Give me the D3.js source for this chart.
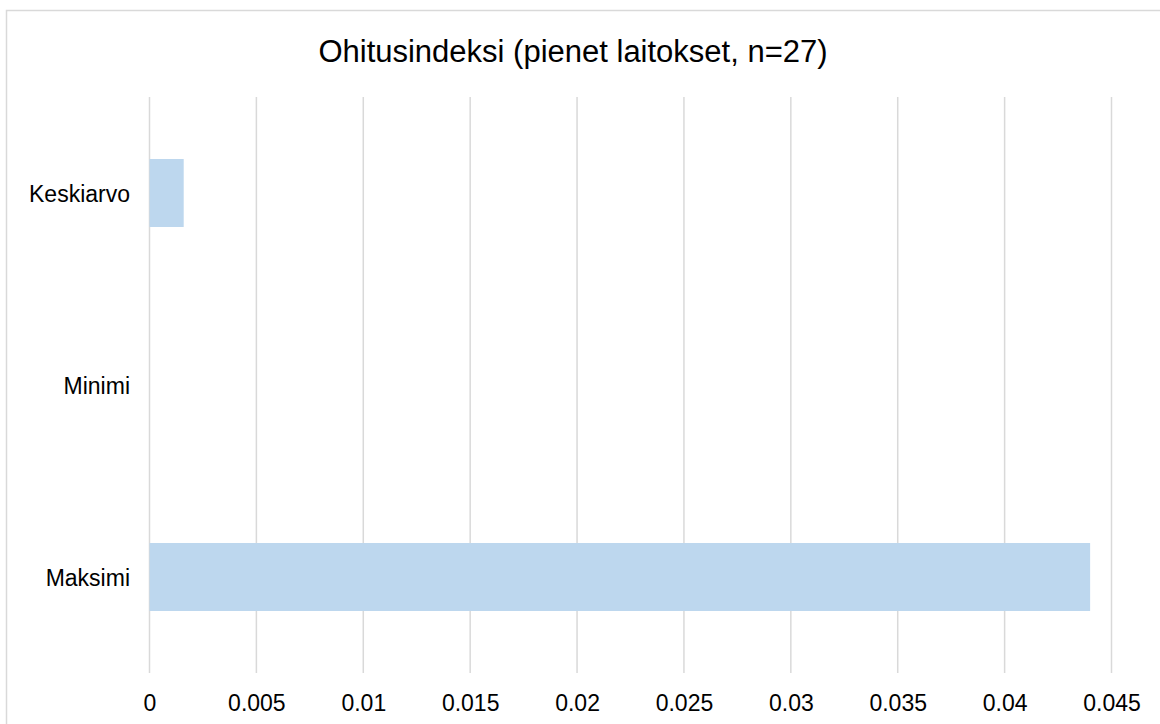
<!DOCTYPE html>
<html>
<head>
<meta charset="utf-8">
<script src="https://cdn.jsdelivr.net/npm/d3@7"></script>
<style>
  body { margin: 0; background: #fff; }
  text { font-family: "Liberation Sans", Arial, sans-serif; fill: #000; }
</style>
</head>
<body>
<svg></svg>
<script>
var categories = ["Keskiarvo", "Minimi", "Maksimi"]
var values = [0.0016, 0, 0.044]
var tickValues = [0, 0.005, 0.01, 0.015, 0.02, 0.025, 0.03, 0.035, 0.04, 0.045]
var tickLabels = ["0", "0.005", "0.01", "0.015", "0.02", "0.025", "0.03", "0.035", "0.04", "0.045"]
var title = "Ohitusindeksi (pienet laitokset, n=27)"

var screen = {width: 1160, height: 724}
var plot = {left: 149.5, right: 1111.5, top: 97, bottom: 673}

var svg = d3.select("svg")
    .attr("width", screen.width)
    .attr("height", screen.height)

// chart border (runs off the right and bottom of the picture)
svg.append("rect")
    .attr("x", 6.5)
    .attr("y", 10.5)
    .attr("width", 1200)
    .attr("height", 800)
    .attr("fill", "#fff")
    .attr("stroke", "#d9d9d9")
    .attr("stroke-width", 1.5)

var xScale = d3.scaleLinear()
    .domain([0, 0.045])
    .range([plot.left, plot.right])

var yScale = d3.scaleBand()
    .domain(categories)
    .range([plot.top, plot.bottom])
    .paddingInner(0.646)
    .paddingOuter(0.323)

// gridlines
svg.append("g")
    .selectAll("line")
    .data(tickValues)
    .enter()
    .append("line")
    .attr("x1", function(d){ return xScale(d) })
    .attr("x2", function(d){ return xScale(d) })
    .attr("y1", plot.top)
    .attr("y2", plot.bottom)
    .attr("stroke", "#d9d9d9")
    .attr("stroke-width", 1.5)

// bars
svg.append("g")
    .selectAll("rect")
    .data(values)
    .enter()
    .append("rect")
    .attr("x", xScale(0))
    .attr("y", function(d, i){ return yScale(categories[i]) })
    .attr("width", function(d){ return xScale(d) - xScale(0) })
    .attr("height", yScale.bandwidth())
    .attr("fill", "#bdd7ee")

// x axis labels
var xAxis = d3.axisBottom(xScale)
    .tickValues(tickValues)
    .tickFormat(function(d, i){ return tickLabels[i] })
    .tickSize(0)
    .tickPadding(0)

svg.append("g")
    .attr("id", "xAxis")
    .attr("transform", "translate(0," + 695 + ")")
    .call(xAxis)
    .call(function(g){ g.select(".domain").remove() })
    .selectAll("text")
    .attr("font-size", 23)
    .attr("font-family", "Liberation Sans, Arial, sans-serif")
    .attr("fill", "#000")

// y axis labels
var yAxis = d3.axisLeft(yScale)
    .tickSize(0)
    .tickPadding(0)

svg.append("g")
    .attr("id", "yAxis")
    .attr("transform", "translate(" + 130 + ",2)")
    .call(yAxis)
    .call(function(g){ g.select(".domain").remove() })
    .selectAll("text")
    .attr("font-size", 23)
    .attr("font-family", "Liberation Sans, Arial, sans-serif")
    .attr("fill", "#000")

svg.append("text")
    .attr("x", 573)
    .attr("y", 62)
    .attr("text-anchor", "middle")
    .attr("font-size", 31)
    .text(title)
</script>
</body>
</html>
